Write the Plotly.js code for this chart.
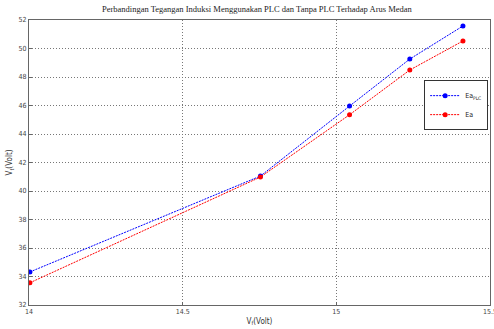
<!DOCTYPE html>
<html><head><meta charset="utf-8">
<script src="https://cdn.plot.ly/plotly-3.0.1.min.js"></script>
<style>html,body{margin:0;padding:0;background:#fff}#g{width:494px;height:329px}</style>
</head><body><div id="g"></div>
<script>
const vf = [14.003, 14.753, 15.043, 15.239, 15.412];
const eaPLC = [34.32, 41.05, 45.96, 49.26, 51.58];
const ea = [33.56, 40.98, 45.35, 48.49, 50.53];
const xTicks = [14, 14.5, 15, 15.5];
const yTicks = [32, 34, 36, 38, 40, 42, 44, 46, 48, 50, 52];

const narrow = 'Liberation Sans Narrow, Arial Narrow, DejaVu Sans Condensed, sans-serif';
const tickFont = {family: narrow, size: 7, color: '#444'};
const data = [
  {x: vf, y: eaPLC, name: 'Ea<sub>PLC</sub>', mode: 'lines+markers',
   line: {color: '#0000ff', width: 1, dash: '2px,1px'}, marker: {color: '#0000ff', size: 5, symbol: 'circle'}},
  {x: vf, y: ea, name: 'Ea', mode: 'lines+markers',
   line: {color: '#ff0000', width: 1, dash: '2px,1px'}, marker: {color: '#ff0000', size: 5, symbol: 'circle'}}
];
const axBase = {showline: true, linecolor: '#666', linewidth: 1, mirror: true, automargin: false,
  ticklabeloverflow: 'allow',
  showgrid: true, gridcolor: '#777', griddash: '1px,2px', gridwidth: 1,
  ticks: 'inside', ticklen: 3, tickcolor: '#666', zeroline: false, tickfont: tickFont};
const layout = {
  width: 494, height: 329,
  margin: {l: 29, r: 4, t: 20, b: 24, autoexpand: false},
  paper_bgcolor: '#fff', plot_bgcolor: '#fff',
  title: {text: 'Perbandingan Tegangan Induksi Menggunakan PLC dan Tanpa PLC Terhadap Arus Medan',
    font: {family: 'Liberation Serif, Times New Roman, serif', size: 8.5, color: '#222'},
    x: 0.52, xanchor: 'center', y: 0.972, yanchor: 'middle', automargin: false},
  xaxis: Object.assign({}, axBase, {range: [14, 15.5], tickvals: xTicks, ticktext: xTicks.map(String),
    title: {text: 'V<sub>f</sub>(Volt)', font: {family: narrow, size: 8, color: '#333'}, standoff: 2}}),
  yaxis: Object.assign({}, axBase, {range: [32, 52], tickvals: yTicks, ticktext: yTicks.map(String),
    title: {text: 'V<sub>t</sub>(Volt)', font: {family: narrow, size: 8, color: '#333'}, standoff: 4}}),
  showlegend: true,
  legend: {x: 0.996, y: 0.789, xanchor: 'right', yanchor: 'top', bgcolor: '#fff',
    bordercolor: '#333', borderwidth: 1, font: {family: narrow, size: 7, color: '#222'},
    itemwidth: 30, tracegroupgap: 0}
};
Plotly.newPlot('g', data, layout, {displayModeBar: false, staticPlot: true});
</script></body></html>
